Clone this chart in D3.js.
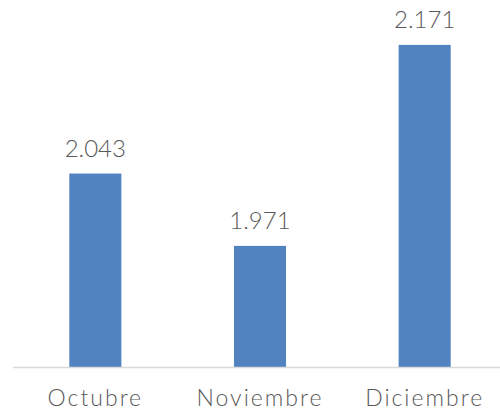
<!DOCTYPE html>
<html><head><meta charset="utf-8">
<script src="https://cdn.jsdelivr.net/npm/d3@7"></script>
<style>body{margin:0;background:#fff}svg{display:block}</style>
</head><body>
<script>
const categories = ["Octubre", "Noviembre", "Diciembre"];
const values = [2.043, 1.971, 2.171];
const labels = ["2.043", "1.971", "2.171"];

const W = 500, H = 410;
const svg = d3.select("body").append("svg").attr("width", W).attr("height", H);
const font = "Lato, 'DejaVu Sans', sans-serif";

const x = d3.scaleBand().domain(categories).range([13, 507]).paddingInner(0.684).paddingOuter(0.342);
const y = d3.scaleLinear().domain([1.85, 2.2]).range([367.5, 15.75]);

svg.selectAll("rect.bar").data(values).join("rect")
  .attr("x", (d, i) => x(categories[i]))
  .attr("width", x.bandwidth())
  .attr("y", d => y(d))
  .attr("height", d => y.range()[0] - y(d))
  .attr("fill", "#5083c0");

const axis = svg.append("g").attr("transform", `translate(0,${y.range()[0]})`)
  .call(d3.axisBottom(x).tickSize(0));
axis.select(".domain").attr("d", "M13,0H500").attr("stroke", "#d9d9d9").attr("stroke-width", 1.5);
axis.selectAll("text").attr("y", 38.5).attr("dy", 0)
  .attr("font-family", font).attr("font-size", 23).attr("letter-spacing", 2)
  .attr("font-weight", 300).attr("fill", "#595959");

svg.selectAll("text.val").data(values).join("text")
  .attr("class", "val")
  .attr("x", (d, i) => x(categories[i]) + x.bandwidth() / 2)
  .attr("y", d => y(d) - 17)
  .attr("text-anchor", "middle")
  .attr("font-family", font).attr("font-size", 24).attr("font-weight", 300).attr("fill", "#595959")
  .text((d, i) => labels[i]);
</script>
</body></html>
